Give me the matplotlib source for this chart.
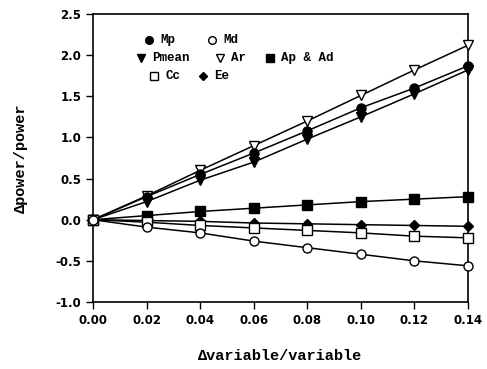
import numpy as np
import matplotlib.pyplot as plt

x = [0.00, 0.02, 0.04, 0.06, 0.08, 0.10, 0.12, 0.14]
mp = [0.0, 0.28, 0.55, 0.81, 1.08, 1.36, 1.60, 1.87]
md = [0.0, -0.09, -0.16, -0.26, -0.34, -0.42, -0.50, -0.56]
pmean = [0.0, 0.22, 0.48, 0.70, 0.98, 1.25, 1.53, 1.82]
ar = [0.0, 0.29, 0.60, 0.90, 1.20, 1.51, 1.82, 2.12]
apad = [0.0, 0.05, 0.10, 0.14, 0.18, 0.22, 0.25, 0.28]
cc = [0.0, -0.03, -0.07, -0.10, -0.13, -0.16, -0.20, -0.22]
ee = [0.0, -0.01, -0.02, -0.04, -0.05, -0.06, -0.07, -0.08]

mono = ['Liberation Mono', 'DejaVu Sans Mono']

fig = plt.figure(figsize=(4.87, 3.69), dpi=100)
ax = fig.add_axes([93 / 487, 67 / 369, 375 / 487, 288 / 369])

series = [
    (ar, 'v', 'white', 'Ar'),
    (mp, 'o', 'black', 'Mp'),
    (pmean, 'v', 'black', 'Pmean'),
    (apad, 's', 'black', 'Ap & Ad'),
    (ee, 'D', 'black', 'Ee'),
    (cc, 's', 'white', 'Cc'),
    (md, 'o', 'white', 'Md'),
]
for ys, m, fc, lab in series:
    ms = 5 if m == 'D' else 6.5
    ax.plot(x, ys, color='black', lw=1.1, marker=m, markersize=ms,
            markerfacecolor=fc, markeredgecolor='black', markeredgewidth=1.0,
            clip_on=False, zorder=3)

# hand-made legend in three rows
legend_rows = [
    [('o', 'black', 'Mp', 149, 40), ('o', 'white', 'Md', 212, 40)],
    [('v', 'black', 'Pmean', 141, 58), ('v', 'white', 'Ar', 220, 58),
     ('s', 'black', 'Ap & Ad', 270, 58)],
    [('s', 'white', 'Cc', 154, 76), ('D', 'black', 'Ee', 203, 76)],
]
for row in legend_rows:
    for m, fc, lab, px, py in row:
        xa = (px - 93) / 375
        ya = (302 - py) / 288
        ax.plot([xa], [ya], marker=m, markersize=5.5 if m != 'D' else 4.5,
                markerfacecolor=fc, markeredgecolor='black',
                transform=ax.transAxes, linestyle='none')
        ax.text(xa + 0.03, ya, lab, transform=ax.transAxes, va='center',
                ha='left', fontsize=9, fontweight='bold', family=mono)

ax.set_xlim(0, 0.14)
ax.set_ylim(-1.0, 2.5)
ax.set_xticks(np.arange(0, 0.141, 0.02))
ax.set_yticks(np.arange(-1.0, 2.51, 0.5))
ax.set_xticklabels(['%.2f' % v for v in np.arange(0, 0.141, 0.02)])
ax.set_yticklabels(['%.1f' % v for v in np.arange(-1.0, 2.51, 0.5)])
ax.tick_params(direction='out', length=5, width=1.0, labelsize=8.5)
for lab in ax.get_xticklabels() + ax.get_yticklabels():
    lab.set_fontweight('bold')
for s in ax.spines.values():
    s.set_linewidth(1.2)

ax.set_xlabel('\u0394variable/variable', fontsize=11, fontweight='bold',
              family=mono, labelpad=16)
ax.set_ylabel('\u0394power/power', fontsize=11, fontweight='bold',
              family=mono, labelpad=20)

fig.savefig('out.png', dpi=100)
